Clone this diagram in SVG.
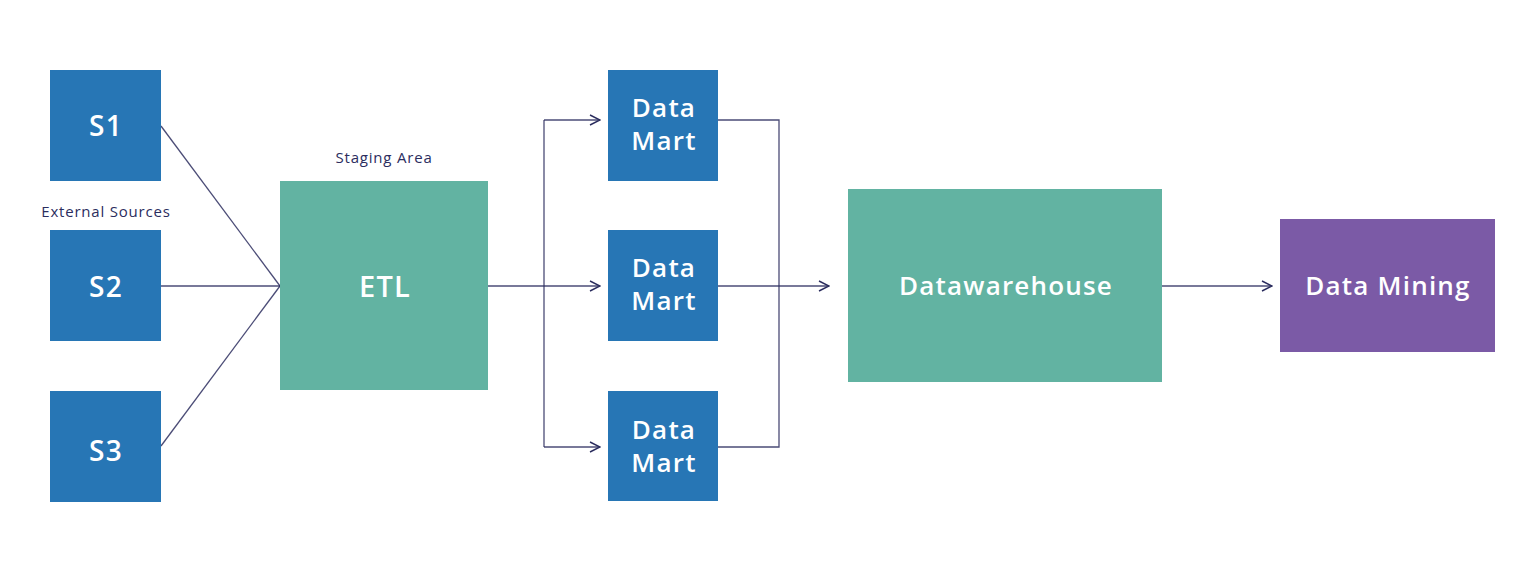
<svg xmlns="http://www.w3.org/2000/svg" width="1535" height="572" viewBox="0 0 1535 572">
<style>
.blue{fill:#2776b5}
.green{fill:#62b3a2}
.purple{fill:#7b5aa6}
.lbl{font-family:"Open Sans","Liberation Sans",sans-serif;font-weight:600;fill:#ffffff;text-anchor:middle;letter-spacing:1.2px}
.cap{font-family:"Open Sans","Liberation Sans",sans-serif;font-size:15px;fill:#2b2d5e;text-anchor:middle;letter-spacing:0.8px}
.ln{fill:none;stroke:#2b2d5e;stroke-width:1.3;stroke-opacity:0.85}
</style>
<defs>
<marker id="arr" viewBox="0 0 12 12" refX="11" refY="6" markerWidth="12" markerHeight="12" markerUnits="userSpaceOnUse" orient="auto">
<path d="M1,1 L11,6 L1,11" fill="none" stroke="#2b2d5e" stroke-width="1.4"/>
</marker>
</defs>
<rect width="1535" height="572" fill="#ffffff"/>
<g id="connectors">
<path class="ln" d="M161,126 L280,286"/>
<path class="ln" d="M161,286 L280,286"/>
<path class="ln" d="M161,446 L280,286"/>
<path class="ln" d="M488,286 L600,286" marker-end="url(#arr)"/>
<path class="ln" d="M544,120 L544,447"/>
<path class="ln" d="M544,120 L600,120" marker-end="url(#arr)"/>
<path class="ln" d="M544,447 L600,447" marker-end="url(#arr)"/>
<path class="ln" d="M718,120 L779,120 L779,447 L718,447"/>
<path class="ln" d="M718,286 L829,286" marker-end="url(#arr)"/>
<path class="ln" d="M1162,286 L1272,286" marker-end="url(#arr)"/>
</g>
<g id="s1"><rect class="blue" x="50" y="70" width="111" height="111"/><text class="lbl" x="106" y="136" font-size="28">S1</text></g>
<g id="s2"><rect class="blue" x="50" y="230" width="111" height="111"/><text class="lbl" x="106" y="297" font-size="28">S2</text></g>
<g id="s3"><rect class="blue" x="50" y="391" width="111" height="111"/><text class="lbl" x="106" y="461" font-size="28">S3</text></g>
<g id="ext-label"><text class="cap" x="106" y="217">External Sources</text></g>
<g id="staging-label"><text class="cap" x="384" y="163">Staging Area</text></g>
<g id="etl"><rect class="green" x="280" y="181" width="208" height="209"/><text class="lbl" x="385" y="297" font-size="29">ETL</text></g>
<g id="dm1"><rect class="blue" x="608" y="70" width="110" height="111"/><text class="lbl" x="664" y="117" font-size="26">Data</text><text class="lbl" x="664" y="150" font-size="26">Mart</text></g>
<g id="dm2"><rect class="blue" x="608" y="230" width="110" height="111"/><text class="lbl" x="664" y="277" font-size="26">Data</text><text class="lbl" x="664" y="310" font-size="26">Mart</text></g>
<g id="dm3"><rect class="blue" x="608" y="391" width="110" height="110"/><text class="lbl" x="664" y="439" font-size="26">Data</text><text class="lbl" x="664" y="472" font-size="26">Mart</text></g>
<g id="dw"><rect class="green" x="848" y="189" width="314" height="193"/><text class="lbl" x="1006" y="295" font-size="26">Datawarehouse</text></g>
<g id="mining"><rect class="purple" x="1280" y="219" width="215" height="133"/><text class="lbl" x="1388" y="295" font-size="26">Data Mining</text></g>
</svg>
